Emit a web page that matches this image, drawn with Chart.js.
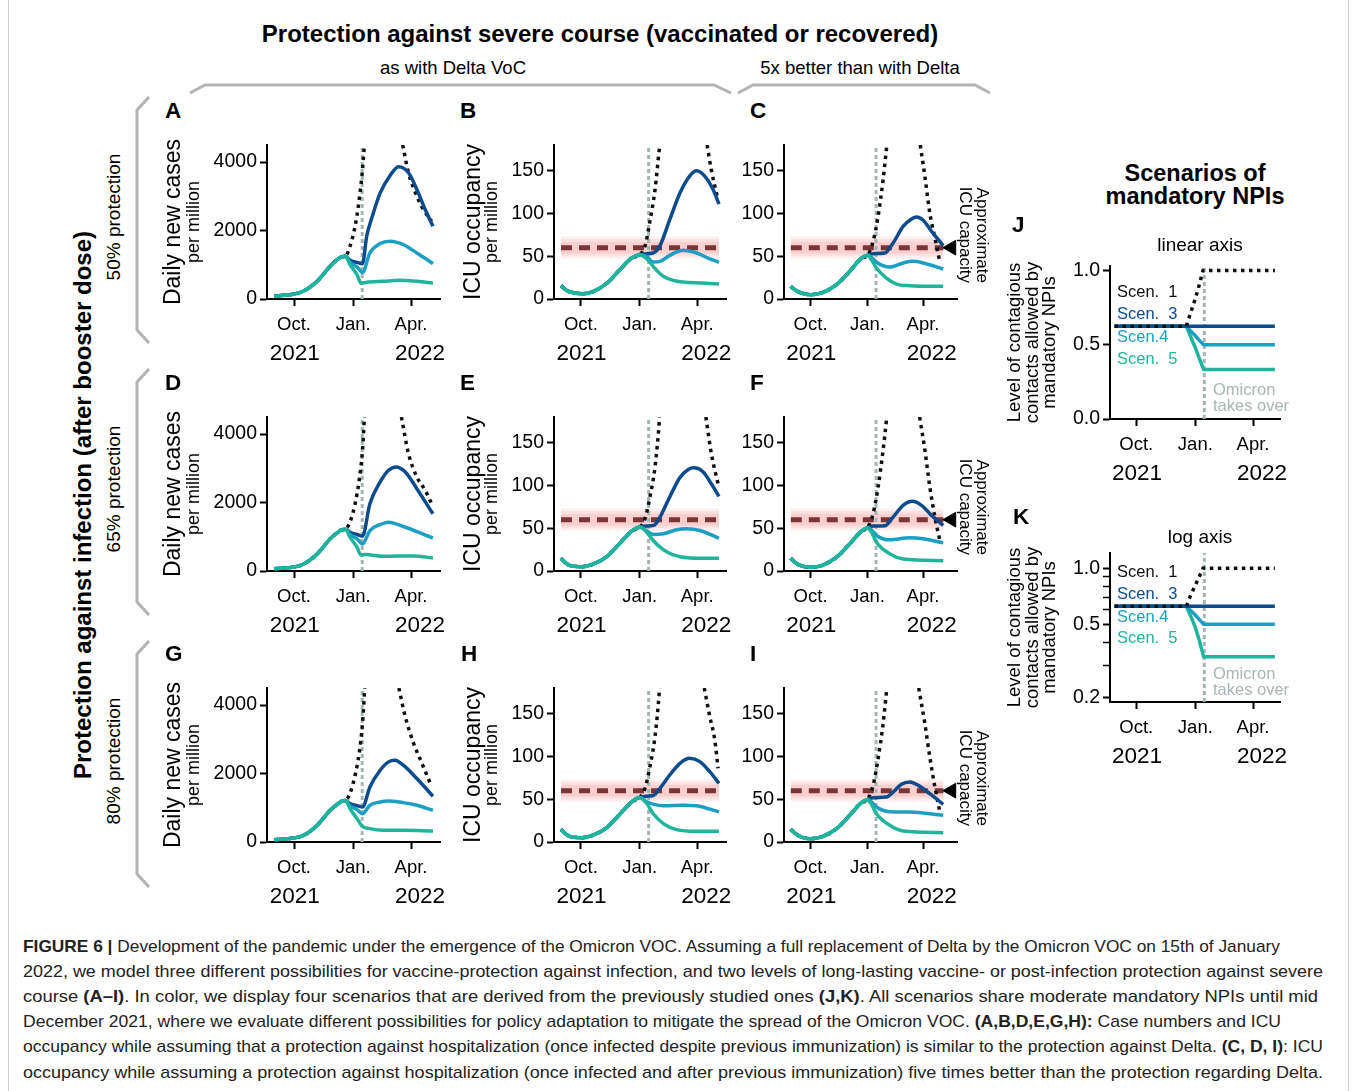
<!DOCTYPE html>
<html><head><meta charset="utf-8">
<script src="https://cdn.jsdelivr.net/npm/chart.js@4.4.1/dist/chart.umd.min.js"></script>
<style>
html,body{margin:0;padding:0;background:#fff;}
#page{position:relative;width:1356px;height:1091px;overflow:hidden;font-family:"Liberation Sans",Arial,Helvetica,sans-serif;color:#000;}
.t{position:absolute;white-space:pre;line-height:1;}
canvas{position:absolute;}
svg{position:absolute;left:0;top:0;}
</style></head><body><div id="page"></div>
<script>
// ---------------- DATA (days relative to 1 Jan 2022) ----------------
const MONTH_TICKS = [-92, 0, 90];
const MONTH_LABELS = ['Oct.', 'Jan.', 'Apr.'];
const YEAR_POS = [-91, 104];
const YEAR_LABELS = ['2021', '2022'];
const CASE_TICKS = [0, 2000, 4000];
const ICU_TICKS = [0, 50, 100, 150];
const NPI_LIN_TICKS = [0, 0.5, 1.0];
const NPI_LOG_TICKS = [0.2, 0.3, 0.4, 0.5, 0.6, 0.7, 0.8, 0.9, 1.0];
const NPI_LOG_LABELED = [0.2, 0.5, 1.0];
const OMICRON_DAY = 14;
const ICU_CAPACITY = 60;

// Panel A (cases, 50% protection)
const A_shared = [[-123,78],[-108,107],[-89,156],[-77,234],[-67,351],[-56,517],[-46,732],[-36,956],[-25,1151],[-18,1229],[-12,1249]];
const A_s1 = [[-5,1540],[3,2127],[8,2712],[13.5,3590],[17.5,4500],[48,null],[77,4500],[86,3688],[99,3005],[109,2615],[122,2273]];
const A_s3 = [[-5,1130],[6,1070],[14.5,1030],[21,1834],[29,2371],[42,3102],[57.5,3610],[70.5,3863],[86,3688],[99,3200],[112,2615],[124,2127]];
const A_s4 = [[-5,1073],[6,937],[14.5,780],[26,1346],[42,1620],[57.5,1688],[78,1590],[99,1346],[124,1034]];
const A_s5 = [[-5,1005],[6,712],[12,468],[16,470],[21,488],[47,517],[71,546],[99,517],[124,468]];
// Panel D (cases, 65% protection)
const D_shared = [[-123,68],[-89,127],[-77,205],[-67,323],[-56,499],[-46,714],[-36,939],[-25,1115],[-18,1203],[-12,1222]];
const D_s1 = [[-5,1428],[3,1966],[9.3,2650],[14.5,3531],[17.5,4500],[47,null],[75,4500],[86,3433],[99,2748],[112,2357],[122,1966]];
const D_s3 = [[-5,1134],[6,1066],[14.5,1017],[26,1966],[42,2601],[55,2944],[67,3042],[81,2895],[99,2406],[124,1672]];
const D_s4 = [[-5,1066],[6,939],[14.5,792],[26,1183],[42,1359],[55,1428],[78,1301],[99,1154],[124,958]];
const D_s5 = [[-5,988],[6,694],[12,469],[19,479],[47,430],[94,440],[124,381]];
// Panel G (cases, 80% protection)
const G_shared = [[-123,68],[-89,127],[-77,195],[-67,312],[-56,488],[-46,702],[-36,927],[-25,1102],[-18,1190],[-12,1210]];
const G_s1 = [[-5,1415],[3,1951],[9.3,2585],[14.5,3463],[18,4500],[45,null],[71,4500],[81,3659],[94,2878],[107,2293],[120,1707]];
const G_s3 = [[-5,1122],[6,1063],[14.5,1024],[26,1610],[42,2098],[55,2341],[65,2390],[78,2244],[99,1854],[124,1337]];
const G_s4 = [[-5,1054],[6,946],[14.5,829],[26,1073],[42,1171],[55,1200],[78,1151],[99,1073],[124,927]];
const G_s5 = [[-5,976],[6,683],[13.5,468],[26,390],[47,341],[78,341],[124,322]];
// Panel B (ICU, 50%, Delta-like)
const B_shared = [[-123,15.6],[-116,10.9],[-108.6,8.2],[-90,6.2],[-72,9],[-51,18.7],[-31,34.3],[-12.5,47.9],[0,51.8]];
const B_s1 = [[8.3,61.6],[16,90.8],[24,127.8],[30.6,174.5],[31.5,180],[70,null],[105.5,180],[112,151],[120,124],[122.6,116]];
const B_s3 = [[11,53],[21,53.8],[31.7,62.3],[47,92.7],[63,124],[78.4,144],[89,150],[102,143.4],[115,127.8],[124,111]];
const B_s4 = [[11,49.5],[21,43.2],[31.7,44],[47,51],[68,56.9],[89,53.8],[107,47.9],[124,42.9]];
const B_s5 = [[11,47.1],[21,38.2],[37,26.5],[52.5,21.8],[68,19.9],[99,18.7],[124,17.5]];
// Panel E (ICU, 65%, Delta-like)
const E_shared = [[-123,14.9],[-116,9.4],[-108.6,6.3],[-90,5.1],[-72,8.2],[-51,17.2],[-31,32.5],[-12.5,46.6],[0,51.3]];
const E_s1 = [[8.3,61],[16,86.5],[24,121.8],[30.6,174.7],[31,180],[70,null],[103.5,180],[112,137.5],[120,110],[122.6,102]];
const E_s3 = [[11,52.5],[22,53.3],[31.7,63],[47,86.5],[63,109.3],[76,118.7],[84.7,120.6],[99,116],[112,102],[124,87.3]];
const E_s4 = [[11,47],[21,42.7],[37,43.5],[57.7,48.2],[73,49.3],[94,47.4],[124,38.4]];
const E_s5 = [[11,45.4],[21,35.6],[37,25],[52.5,18.8],[78.4,15.3],[124,14.9]];
// Panel H (ICU, 80%, Delta-like)
const H_shared = [[-123,14.9],[-116,9.4],[-108.6,6.3],[-90,5.1],[-72,8.2],[-51,17.2],[-31,32.5],[-12.5,47],[0,52.1]];
const H_s1 = [[8.3,62.7],[16,88.1],[24,123.4],[30.6,175],[31,180],[70,null],[101,180],[109.6,146.9],[117.4,119.4],[122.6,86.2]];
const H_s3 = [[11,53.6],[21,54.4],[31.7,62.7],[47,78.3],[63,92],[78.4,97.9],[94,94],[109.6,82.2],[124,68.5]];
const H_s4 = [[11,47],[21,44.3],[37,42.3],[68,43.1],[89,42.3],[124,35.2]];
const H_s5 = [[11,45],[21,33.3],[37,21.5],[57.7,14.5],[89,12.5],[124,12.5]];
// Panel C (ICU, 50%, 5x better)
const C_shared = [[-124.3,14.8],[-115,9.7],[-107,7],[-92,5.1],[-72,7.8],[-50,16.8],[-28.6,32.3],[-9.7,47.9],[0,51]];
const C_s1 = [[9.2,67.4],[17.3,96.6],[25.4,139.5],[30.8,175.3],[31.5,180],[60,null],[85.5,180],[93,143.4],[101,100.5],[109.2,71.3],[117.3,42.9]];
const C_s3 = [[9.2,53],[28,53.8],[41.6,65.5],[57.8,84.9],[71.4,93.5],[79.5,95.8],[90.3,92],[103.8,79.1],[122.7,62.3]];
const C_s4 = [[6.5,48.7],[14.6,42.9],[36.2,37.4],[57.8,42.1],[74,44],[90.3,42.1],[122.7,35.1]];
const C_s5 = [[6.5,46],[14.6,36.2],[30.8,24.5],[47,17.5],[68.6,15.6],[122.7,14.8]];
// Panel F (ICU, 65%, 5x better)
const F_shared = [[-124.3,14.9],[-115,9],[-107,5.9],[-92,4.3],[-72,7],[-50,16.1],[-28.6,31.7],[-9.7,46.6],[0,50.5]];
const F_s1 = [[9.2,67],[17.3,98.3],[25.4,141.4],[30.8,176.6],[31.2,180],[60,null],[84.5,180],[93,141.4],[101,98.3],[109.2,63],[117.3,35.6]];
const F_s3 = [[9.2,52.5],[28,52.9],[41.6,63],[57.8,76.8],[73,81.5],[87.6,76.8],[103.8,65],[122.7,53.3]];
const F_s4 = [[6.5,48.2],[14.6,41.5],[36.2,36.4],[68.6,38.8],[90.3,37.6],[122.7,32.9]];
const F_s5 = [[6.5,45.4],[14.6,33.7],[36.2,20],[57.8,14.1],[122.7,12.1]];
// Panel I (ICU, 80%, 5x better)
const I_shared = [[-124.3,14.8],[-115,9],[-107,5.8],[-92,3.9],[-72,6.6],[-50,15.6],[-28.6,31.2],[-9.7,46],[0,49.5]];
const I_s1 = [[9.2,66.2],[17.3,97.4],[25.4,138.3],[30.8,175.3],[31.5,180],[60,null],[83,180],[93,138.3],[101,99.3],[109.2,64.3],[117.3,35.1]];
const I_s3 = [[9.2,51.8],[30.8,52.6],[41.6,58.4],[55,67.4],[68.6,70.1],[82.2,66.2],[101,56.5],[122.7,44]];
const I_s4 = [[6.5,46.8],[14.6,40.9],[36.2,35.5],[68.6,35.1],[122.7,31.2]];
const I_s5 = [[6.5,44],[14.6,33.1],[36.2,19.5],[57.8,12.9],[122.7,10.9]];
// Panels J, K (level of contacts allowed by NPIs)
const NPI_s1 = [[-126,0.625],[-14,0.625],[-7,0.72],[0,0.81],[6,0.9],[12,1.0],[124,1.0]];
const NPI_s3 = [[-126,0.625],[124,0.625]];
const NPI_s4 = [[-126,0.625],[-14,0.625],[-7,0.59],[0,0.56],[6,0.53],[13,0.5],[124,0.5]];
const NPI_s5 = [[-126,0.625],[-14,0.625],[-7,0.55],[0,0.48],[6,0.41],[13,0.333],[124,0.333]];

// ---------------- STYLE ----------------
const FONT = '"Liberation Sans", Arial, Helvetica, sans-serif';
const COL = {s1:'#111111', s3:'#0c4b8c', s4:'#1b9fc3', s5:'#1eb59c', omi:'#a6b4b4', cap:'#7a3535', band:'rgba(236,112,112,', gray:'#b3b3b3', omiText:'#a9b6b6'};
const TICK_SIZE = 19.5, MONTH_SIZE = 18.5, YEAR_SIZE = 22.5;
const DOT = {borderWidth:3.5, borderDash:[3.5,4.5]};

const page = document.getElementById('page');
const P = a => a.map(p => ({x:p[0], y:p[1]}));

function lineDS(data, color, order, opt = {}) {
  return Object.assign({data, borderColor:color, backgroundColor:color, borderWidth:3.5, pointRadius:0,
    fill:false, cubicInterpolationMode:'monotone', order, borderCapStyle:'butt'}, opt);
}
function scenarioSets(shared, s1, s3, s4, s5, ymin, ymax) {
  return [
    lineDS(P([[OMICRON_DAY, ymin], [OMICRON_DAY, ymax]]), COL.omi, 20, {borderWidth:3, borderDash:[4,3], cubicInterpolationMode:'default', tension:0}),
    lineDS(P(shared.concat(s1)), COL.s1, 10, DOT),
    lineDS(P(shared.concat(s3)), COL.s3, 3),
    lineDS(P(shared.concat(s4)), COL.s4, 2),
    lineDS(P(shared.concat(s5)), COL.s5, 1),
  ];
}
function capacitySets(x0, x1, withMarker) {
  const band = (lo, hi, a, order) => ({data:P([[x0,hi],[x1,hi]]), borderWidth:0, pointRadius:0,
    fill:{value:lo}, backgroundColor:COL.band + a + ')', order});
  const sets = [
    band(47, 73, 0.10, 40), band(50, 70, 0.12, 39), band(53, 67, 0.16, 38),
    {data:P([[x0,ICU_CAPACITY],[x1,ICU_CAPACITY]]), borderColor:COL.cap, borderWidth:5, borderDash:[11,7], pointRadius:0, fill:false, order:30},
  ];
  if (withMarker) sets.push({data:P([[136, ICU_CAPACITY]]), showLine:false, pointStyle:'triangle', pointRotation:-90,
    pointRadius:8.5, pointBackgroundColor:'#000', pointBorderColor:'#000', pointBorderWidth:1, order:0});
  return sets;
}

function makePanel(spec) {
  const padL = 115, padT = 15, padR = 45, padB = 80;
  const cv = document.createElement('canvas');
  cv.width = spec.w + padL + padR; cv.height = spec.h + padT + padB;
  cv.style.left = (spec.l - padL) + 'px'; cv.style.top = (spec.t - padT) + 'px';
  cv.style.width = cv.width + 'px'; cv.style.height = cv.height + 'px';
  page.appendChild(cv);
  const axisCommon = {
    grid:{drawOnChartArea:false, drawTicks:true, tickLength:7, tickWidth:2, tickColor:'#000'},
    border:{display:true, color:'#000', width:2},
  };
  const extra = {id:'extra', afterDraw(chart) {
    const ctx = chart.ctx, a = chart.chartArea, xs = chart.scales.x;
    ctx.save(); ctx.fillStyle = '#000';
    ctx.font = YEAR_SIZE + 'px ' + FONT; ctx.textAlign = 'center'; ctx.textBaseline = 'alphabetic';
    YEAR_POS.forEach((v, i) => ctx.fillText(YEAR_LABELS[i], xs.getPixelForValue(v), a.bottom + 61));
    const cy = (a.top + a.bottom) / 2;
    (spec.yTitle || []).forEach(t => {
      ctx.save(); ctx.translate(a.left + t.dx, cy); ctx.rotate(-Math.PI / 2);
      ctx.font = t.size + 'px ' + FONT; ctx.textAlign = 'center'; ctx.textBaseline = 'middle';
      ctx.fillText(t.text, 0, 0); ctx.restore();
    });
    (spec.rTitle || []).forEach(t => {
      ctx.save(); ctx.translate(a.right + t.dx, a.top + t.dy); ctx.rotate(Math.PI / 2);
      ctx.font = t.size + 'px ' + FONT; ctx.textAlign = 'right'; ctx.textBaseline = 'middle';
      ctx.fillText(t.text, 0, 0); ctx.restore();
    });
    ctx.restore();
  }};
  new Chart(cv.getContext('2d'), {
    type:'line',
    data:{datasets:spec.datasets},
    options:{
      responsive:false, animation:false, devicePixelRatio:1, events:[],
      layout:{padding:{left:0, top:padT, right:padR, bottom:0}},
      plugins:{legend:{display:false}, tooltip:{enabled:false}},
      scales:{
        x:Object.assign({type:'linear', min:spec.xmin, max:spec.xmax,
          afterBuildTicks:s => { s.ticks = MONTH_TICKS.map(v => ({value:v})); },
          afterFit:s => { s.height = padB; s.paddingLeft = 0; s.paddingRight = 0; s.paddingTop = 0; s.paddingBottom = 0; },
          ticks:{autoSkip:false, maxRotation:0, minRotation:0, padding:8, color:'#000', font:{family:FONT, size:MONTH_SIZE},
            callback:v => { const i = MONTH_TICKS.indexOf(v); return i < 0 ? '' : MONTH_LABELS[i]; }}}, axisCommon),
        y:Object.assign({type:spec.ytype || 'linear', min:spec.ymin, max:spec.ymax,
          afterBuildTicks:s => { s.ticks = spec.yticks.map(v => ({value:v})); },
          afterFit:s => { s.width = padL; s.paddingTop = 0; s.paddingBottom = 0; s.paddingLeft = 0; s.paddingRight = 0; },
          ticks:{autoSkip:false, padding:3, color:'#000', font:{family:FONT, size:TICK_SIZE}, callback:spec.ylabel}}, axisCommon,
          spec.ytype === 'logarithmic' ? {grid:{drawOnChartArea:false, drawTicks:true, tickLength:7, tickColor:'#000',
            tickWidth:c => (c.tick && NPI_LOG_LABELED.some(v => Math.abs(v - c.tick.value) < 1e-6)) ? 2 : 1.5}} : {}),
      },
    },
    plugins:[extra],
  });
}

// ---------------- LAYOUT ----------------
const ROW_T = [145, 417, 688];
const COLS = [{l:267, w:173}, {l:554, w:172}, {l:784, w:173}];
const caseTitle = [{text:'Daily new cases', size:23, dx:-93}, {text:'per million', size:18, dx:-73}];
const icuTitle = [{text:'ICU occupancy', size:23, dx:-80}, {text:'per million', size:18, dx:-62}];
const capTitle = [{text:'Approximate', size:17, dx:25, dy:138}, {text:'ICU capacity', size:17, dx:8, dy:138}];
const caseLabel = v => CASE_TICKS.includes(v) ? String(v) : '';
const icuLabel = v => ICU_TICKS.includes(v) ? String(v) : '';

const caseData = [[A_shared,A_s1,A_s3,A_s4,A_s5],[D_shared,D_s1,D_s3,D_s4,D_s5],[G_shared,G_s1,G_s3,G_s4,G_s5]];
const icuData = [[B_shared,B_s1,B_s3,B_s4,B_s5],[E_shared,E_s1,E_s3,E_s4,E_s5],[H_shared,H_s1,H_s3,H_s4,H_s5]];
const icu5Data = [[C_shared,C_s1,C_s3,C_s4,C_s5],[F_shared,F_s1,F_s3,F_s4,F_s5],[I_shared,I_s1,I_s3,I_s4,I_s5]];

for (let r = 0; r < 3; r++) {
  makePanel({l:COLS[0].l, t:ROW_T[r], w:COLS[0].w, h:154, xmin:-134, xmax:135, ymin:0, ymax:4500,
    yticks:CASE_TICKS, ylabel:caseLabel, yTitle:caseTitle,
    datasets:scenarioSets(...caseData[r], 0, 4500)});
  makePanel({l:COLS[1].l, t:ROW_T[r], w:COLS[1].w, h:154, xmin:-134, xmax:135, ymin:0, ymax:180,
    yticks:ICU_TICKS, ylabel:icuLabel, yTitle:icuTitle,
    datasets:scenarioSets(...icuData[r], 0, 180).concat(capacitySets(-123, 124, false))});
  makePanel({l:COLS[2].l, t:ROW_T[r], w:COLS[2].w, h:154, xmin:-135, xmax:145, ymin:0, ymax:180,
    yticks:ICU_TICKS, ylabel:icuLabel, rTitle:capTitle,
    datasets:scenarioSets(...icu5Data[r], 0, 180).concat(capacitySets(-124, 123, true))});
}

function npiSets(ymin, ymax) {
  const lin = {cubicInterpolationMode:'default', tension:0};
  return [
    lineDS(P([[OMICRON_DAY, ymin], [OMICRON_DAY, ymax]]), COL.omi, 20, Object.assign({borderWidth:3, borderDash:[4,3]}, lin)),
    lineDS(P(NPI_s5), COL.s5, 4, lin),
    lineDS(P(NPI_s4), COL.s4, 3, lin),
    lineDS(P(NPI_s3), COL.s3, 2, lin),
    lineDS(P(NPI_s1), COL.s1, 1, Object.assign({}, DOT, lin)),
  ];
}
const npiTitle = [{text:'Level of contagious', size:18.5, dx:-95}, {text:'contacts allowed by', size:18.5, dx:-77}, {text:'mandatory NPIs', size:18.5, dx:-60}];
makePanel({l:1110, t:266, w:170, h:153, xmin:-133, xmax:132, ymin:0, ymax:1.03,
  yticks:NPI_LIN_TICKS, ylabel:v => v.toFixed(1), yTitle:npiTitle, datasets:npiSets(0, 1.03)});
makePanel({l:1110, t:553, w:170, h:149, xmin:-133, xmax:132, ymin:0.19, ymax:1.21, ytype:'logarithmic',
  yticks:NPI_LOG_TICKS, ylabel:v => NPI_LOG_LABELED.some(u => Math.abs(u - v) < 1e-6) ? v.toFixed(1) : '',
  yTitle:npiTitle, datasets:npiSets(0.19, 1.21)});

// ---------------- ANNOTATION TEXT ----------------
function txt(s, x, base, size, o = {}) {
  const d = document.createElement('div'); d.className = 't';
  d.style.fontSize = size + 'px'; d.style.fontWeight = o.bold ? 'bold' : 'normal'; d.style.color = o.color || '#000';
  if (o.html) d.innerHTML = s; else d.textContent = s;
  d.style.left = x + 'px'; d.style.top = (base - 0.8465 * size) + 'px';
  const tx = o.align === 'center' ? '-50%' : o.align === 'right' ? '-100%' : '0';
  d.style.transform = 'translateX(' + tx + ')';
  page.appendChild(d); return d;
}
function rtxt(s, cx, cy, size, o = {}) {
  const d = document.createElement('div'); d.className = 't';
  d.style.fontSize = size + 'px'; d.style.fontWeight = o.bold ? 'bold' : 'normal'; d.style.color = o.color || '#000';
  d.textContent = s; d.style.left = cx + 'px'; d.style.top = cy + 'px';
  d.style.transform = 'translate(-50%,-50%) rotate(' + (o.deg || -90) + 'deg)';
  page.appendChild(d); return d;
}

txt('Protection against severe course (vaccinated or recovered)', 600, 42, 24, {bold:true, align:'center'});
txt('as with Delta VoC', 453, 75, 18.5, {align:'center'});
txt('5x better than with Delta', 860, 75, 18.5, {align:'center'});
rtxt('Protection against infection (after booster dose)', 83, 505, 24, {bold:true});
['50% protection', '65% protection', '80% protection'].forEach((s, i) => rtxt(s, 113, 217 + 272 * i, 19));

const letters = [['A',165,119],['B',460,119],['C',750,119],['D',165,391],['E',460,391],['F',750,391],['G',165,662],['H',461,662],['I',750,662],['J',1012,233],['K',1013,525]];
letters.forEach(([s, x, y]) => txt(s, x, y, 22.5, {bold:true}));

txt('Scenarios of', 1195, 182, 23.5, {bold:true, align:'center'});
txt('mandatory NPIs', 1195, 205, 23.5, {bold:true, align:'center'});
txt('linear axis', 1200, 251, 19, {align:'center'});
txt('log axis', 1200, 543, 19, {align:'center'});
const legendRows = [['Scen.  1', COL.s1], ['Scen.  3', COL.s3], ['Scen.4', COL.s4], ['Scen.  5', COL.s5]];
[[297, 319, 342, 364], [577, 599, 622, 643]].forEach(bs => legendRows.forEach(([s, c], i) => txt(s, 1117, bs[i], 16.5, {color:c})));
[[395, 411], [679, 695]].forEach(bs => { txt('Omicron', 1213, bs[0], 16.5, {color:COL.omiText}); txt('takes over', 1213, bs[1], 16.5, {color:COL.omiText}); });

// brackets and frame
const svgNS = 'http://www.w3.org/2000/svg';
const svg = document.createElementNS(svgNS, 'svg');
svg.setAttribute('width', 1356); svg.setAttribute('height', 1091);
const poly = (pts, col, w) => { const p = document.createElementNS(svgNS, 'polyline'); p.setAttribute('points', pts);
  p.setAttribute('fill', 'none'); p.setAttribute('stroke', col); p.setAttribute('stroke-width', w); svg.appendChild(p); };
poly('190,93 205,85 714,85 731,93', COL.gray, 3);
poly('738,93 753,85 975,85 990,93', COL.gray, 3);
[0, 272, 544].forEach(o => poly(`149,${97+o} 137,${110+o} 137,${330+o} 149,${343+o}`, COL.gray, 3));
const fr = document.createElementNS(svgNS, 'rect');
fr.setAttribute('x', 8.5); fr.setAttribute('y', -5); fr.setAttribute('width', 1340); fr.setAttribute('height', 1100);
fr.setAttribute('fill', 'none'); fr.setAttribute('stroke', '#cfcfcf'); fr.setAttribute('stroke-width', 1);
svg.appendChild(fr);
page.insertBefore(svg, page.firstChild);

// caption
const CAPTION = [
  ['<b>FIGURE 6 |</b> Development of the pandemic under the emergence of the Omicron VOC. Assuming a full replacement of Delta by the Omicron VOC on 15th of January', 1280],
  ['2022, we model three different possibilities for vaccine-protection against infection, and two levels of long-lasting vaccine- or post-infection protection against severe', 1323],
  ['course <b>(A–I)</b>. In color, we display four scenarios that are derived from the previously studied ones <b>(J,K)</b>. All scenarios share moderate mandatory NPIs until mid', 1318],
  ['December 2021, where we evaluate different possibilities for policy adaptation to mitigate the spread of the Omicron VOC. <b>(A,B,D,E,G,H):</b> Case numbers and ICU', 1281],
  ['occupancy while assuming that a protection against hospitalization (once infected despite previous immunization) is similar to the protection against Delta. <b>(C, D, I)</b>: ICU', 1323],
  ['occupancy while assuming a protection against hospitalization (once infected and after previous immunization) five times better than the protection regarding Delta.', 1323],
];
CAPTION.forEach(([s, right], i) => {
  const d = txt(s, 23, 952 + 25.2 * i, 17, {html:true, color:'#222'});
  const w = d.getBoundingClientRect().width;
  d.style.transformOrigin = '0 0';
  d.style.transform = 'scaleX(' + ((right - 23) / w) + ')';
});
</script></body></html>
